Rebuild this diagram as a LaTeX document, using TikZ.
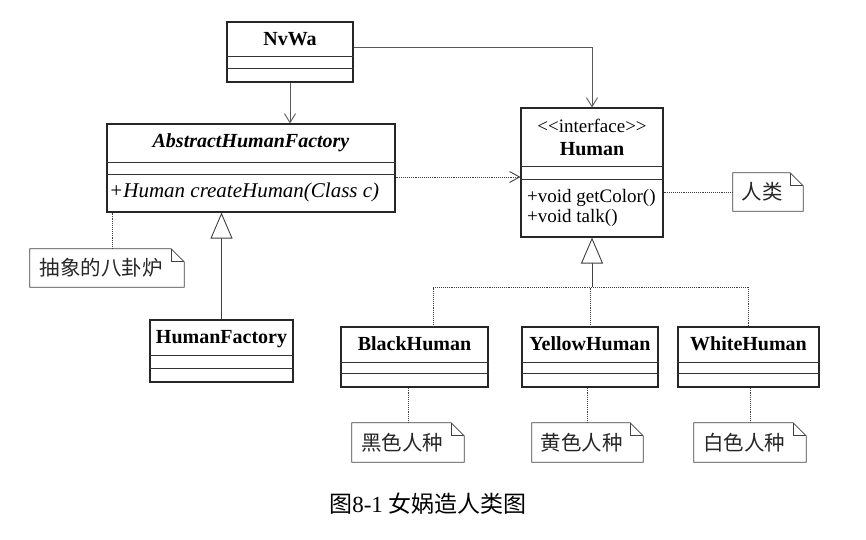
\documentclass[tikz,border=0pt]{standalone}
\usepackage{fontspec}
\setmainfont{Liberation Serif}
\newfontfamily\cjk{Noto Sans CJK SC}
\usetikzlibrary{arrows.meta,calc}
\newcommand\umlclass[7]{%
  \node[box, minimum width={#4-#2}, minimum height={#5-#3}] (#1) at ({(#2+#4)/2},{(#3+#5)/2}) {};
  \draw[divider] (#1.west |- 0,#6) -- (#1.east |- 0,#6);
  \draw[divider] (#1.west |- 0,#7) -- (#1.east |- 0,#7);
}
\newcommand\umlnote[6]{%
  \node[inner sep=0pt, minimum width={#4-#2}, minimum height={#5-#3}, notetext] (#1) at ({(#2+#4)/2},{(#3+#5)/2}) {#6\hspace*{12pt}};
  \draw[noteline] (#1.north west) -- ([xshift=-13pt]#1.north east) -- ([yshift=-13pt]#1.north east) -- (#1.south east) -- (#1.south west) -- cycle;
  \draw[noteline] ([xshift=-13pt]#1.north east) |- ([yshift=-13pt]#1.north east);
}
\begin{document}
\begin{tikzpicture}[x=1pt,y=-1pt,
  box/.style={draw=black!85, line width=1.1pt, inner sep=0pt},
  divider/.style={draw=black!80, line width=1pt},
  cname/.style={font=\fontsize{20}{20}\selectfont\bfseries, inner sep=0pt},
  member/.style={font=\fontsize{19}{19}\selectfont, inner sep=0pt, anchor=west},
  noteline/.style={draw=black!75, line width=0.8pt},
  notetext/.style={font=\cjk\fontsize{20.5}{20.5}\selectfont, text=black!85},
  assoc/.style={draw=black!65, line width=0.9pt, -{Straight Barb[length=9pt,width=11pt]}},
  depend/.style={draw=black!75, line width=0.9pt, densely dotted, -{Straight Barb[length=10pt,width=11pt]}},
  realize/.style={draw=black!75, line width=0.9pt, densely dotted},
  general/.style={draw=black!75, line width=0.9pt, -{Triangle[open, length=26pt, width=22pt, fill=white]}},
  anchorline/.style={draw=black!75, line width=0.9pt, densely dotted}
]
\useasboundingbox (0,0) rectangle (866,539);

% classes
\umlclass{nvwa}{227}{22}{353}{82}{56}{68}
\node[cname] (nvwat) at (290,39) {NvWa};

\umlclass{ahf}{107}{124}{395}{212}{162}{174}
\node[cname, font=\fontsize{20}{20}\selectfont\bfseries\itshape] (ahft) at (251,143) {AbstractHumanFactory};
\node[member, font=\fontsize{21}{21}\selectfont\itshape] (ahfm) at (109,192) {+Human createHuman(Class c)};

\umlclass{human}{521}{108}{663}{237}{166}{179}
\node[font=\fontsize{19}{19}\selectfont, inner sep=0pt] (humans) at (592,126) {<{}<interface>{}>};
\node[cname] (humant) at (592,149) {Human};
\node[member] (humanm1) at (527,198) {+void getColor()};
\node[member] (humanm2) at (527,218) {+void talk()};

\umlclass{hf}{150}{320}{293}{382}{355}{368}
\node[cname] (hft) at (221.5,339) {HumanFactory};

\umlclass{black}{341}{327}{488}{387}{362}{373}
\node[cname] (blackt) at (414.5,344) {BlackHuman};
\umlclass{yellow}{522}{327}{658}{387}{362}{373}
\node[cname] (yellowt) at (590,344) {YellowHuman};
\umlclass{white}{678}{327}{819}{387}{362}{373}
\node[cname] (whitet) at (748.5,344) {WhiteHuman};

% notes
\umlnote{nhuman}{733}{173}{803}{211}{人类}
\umlnote{nahf}{30}{249}{184}{287}{抽象的八卦炉}
\umlnote{nblack}{352}{423}{464}{462}{黑色人种}
\umlnote{nyellow}{532}{423}{643}{462}{黄色人种}
\umlnote{nwhite}{694}{423}{806}{462}{白色人种}

% connectors
\draw[assoc] (nvwa.south) -- (nvwa.south |- ahf.north);
\draw[assoc] ([yshift=5pt]nvwa.east) -| (human.north);
\draw[depend] ([yshift=-9pt]ahf.east) -- ([yshift=-9pt]ahf.east -| human.west);
\draw[anchorline] (nhuman.west) -- (nhuman.west -| human.east);
\draw[anchorline] ([xshift=5pt]nahf.north) -- ([xshift=5pt]nahf.north |- ahf.south);
\draw[general] (hf.north) -- (hf.north |- ahf.south);

\coordinate (bus) at (592,287);
\draw[realize] ([xshift=18.5pt]black.north) -- ([xshift=18.5pt]black.north |- bus) -- (white.north |- bus) -- (white.north);
\draw[realize] (yellow.north) -- (yellow.north |- bus);
\draw[general] (bus) -- (human.south);

\draw[anchorline] (nblack.north) -- (nblack.north |- black.south);
\draw[anchorline] (nyellow.north) -- (nyellow.north |- yellow.south);
\draw[anchorline] (nwhite.north) -- (nwhite.north |- white.south);

% caption
\node[font=\fontsize{23}{23}\selectfont, inner sep=0pt] (caption) at (428,504) {{\cjk 图}8-1 {\cjk 女娲造人类图}};
\end{tikzpicture}
\end{document}
